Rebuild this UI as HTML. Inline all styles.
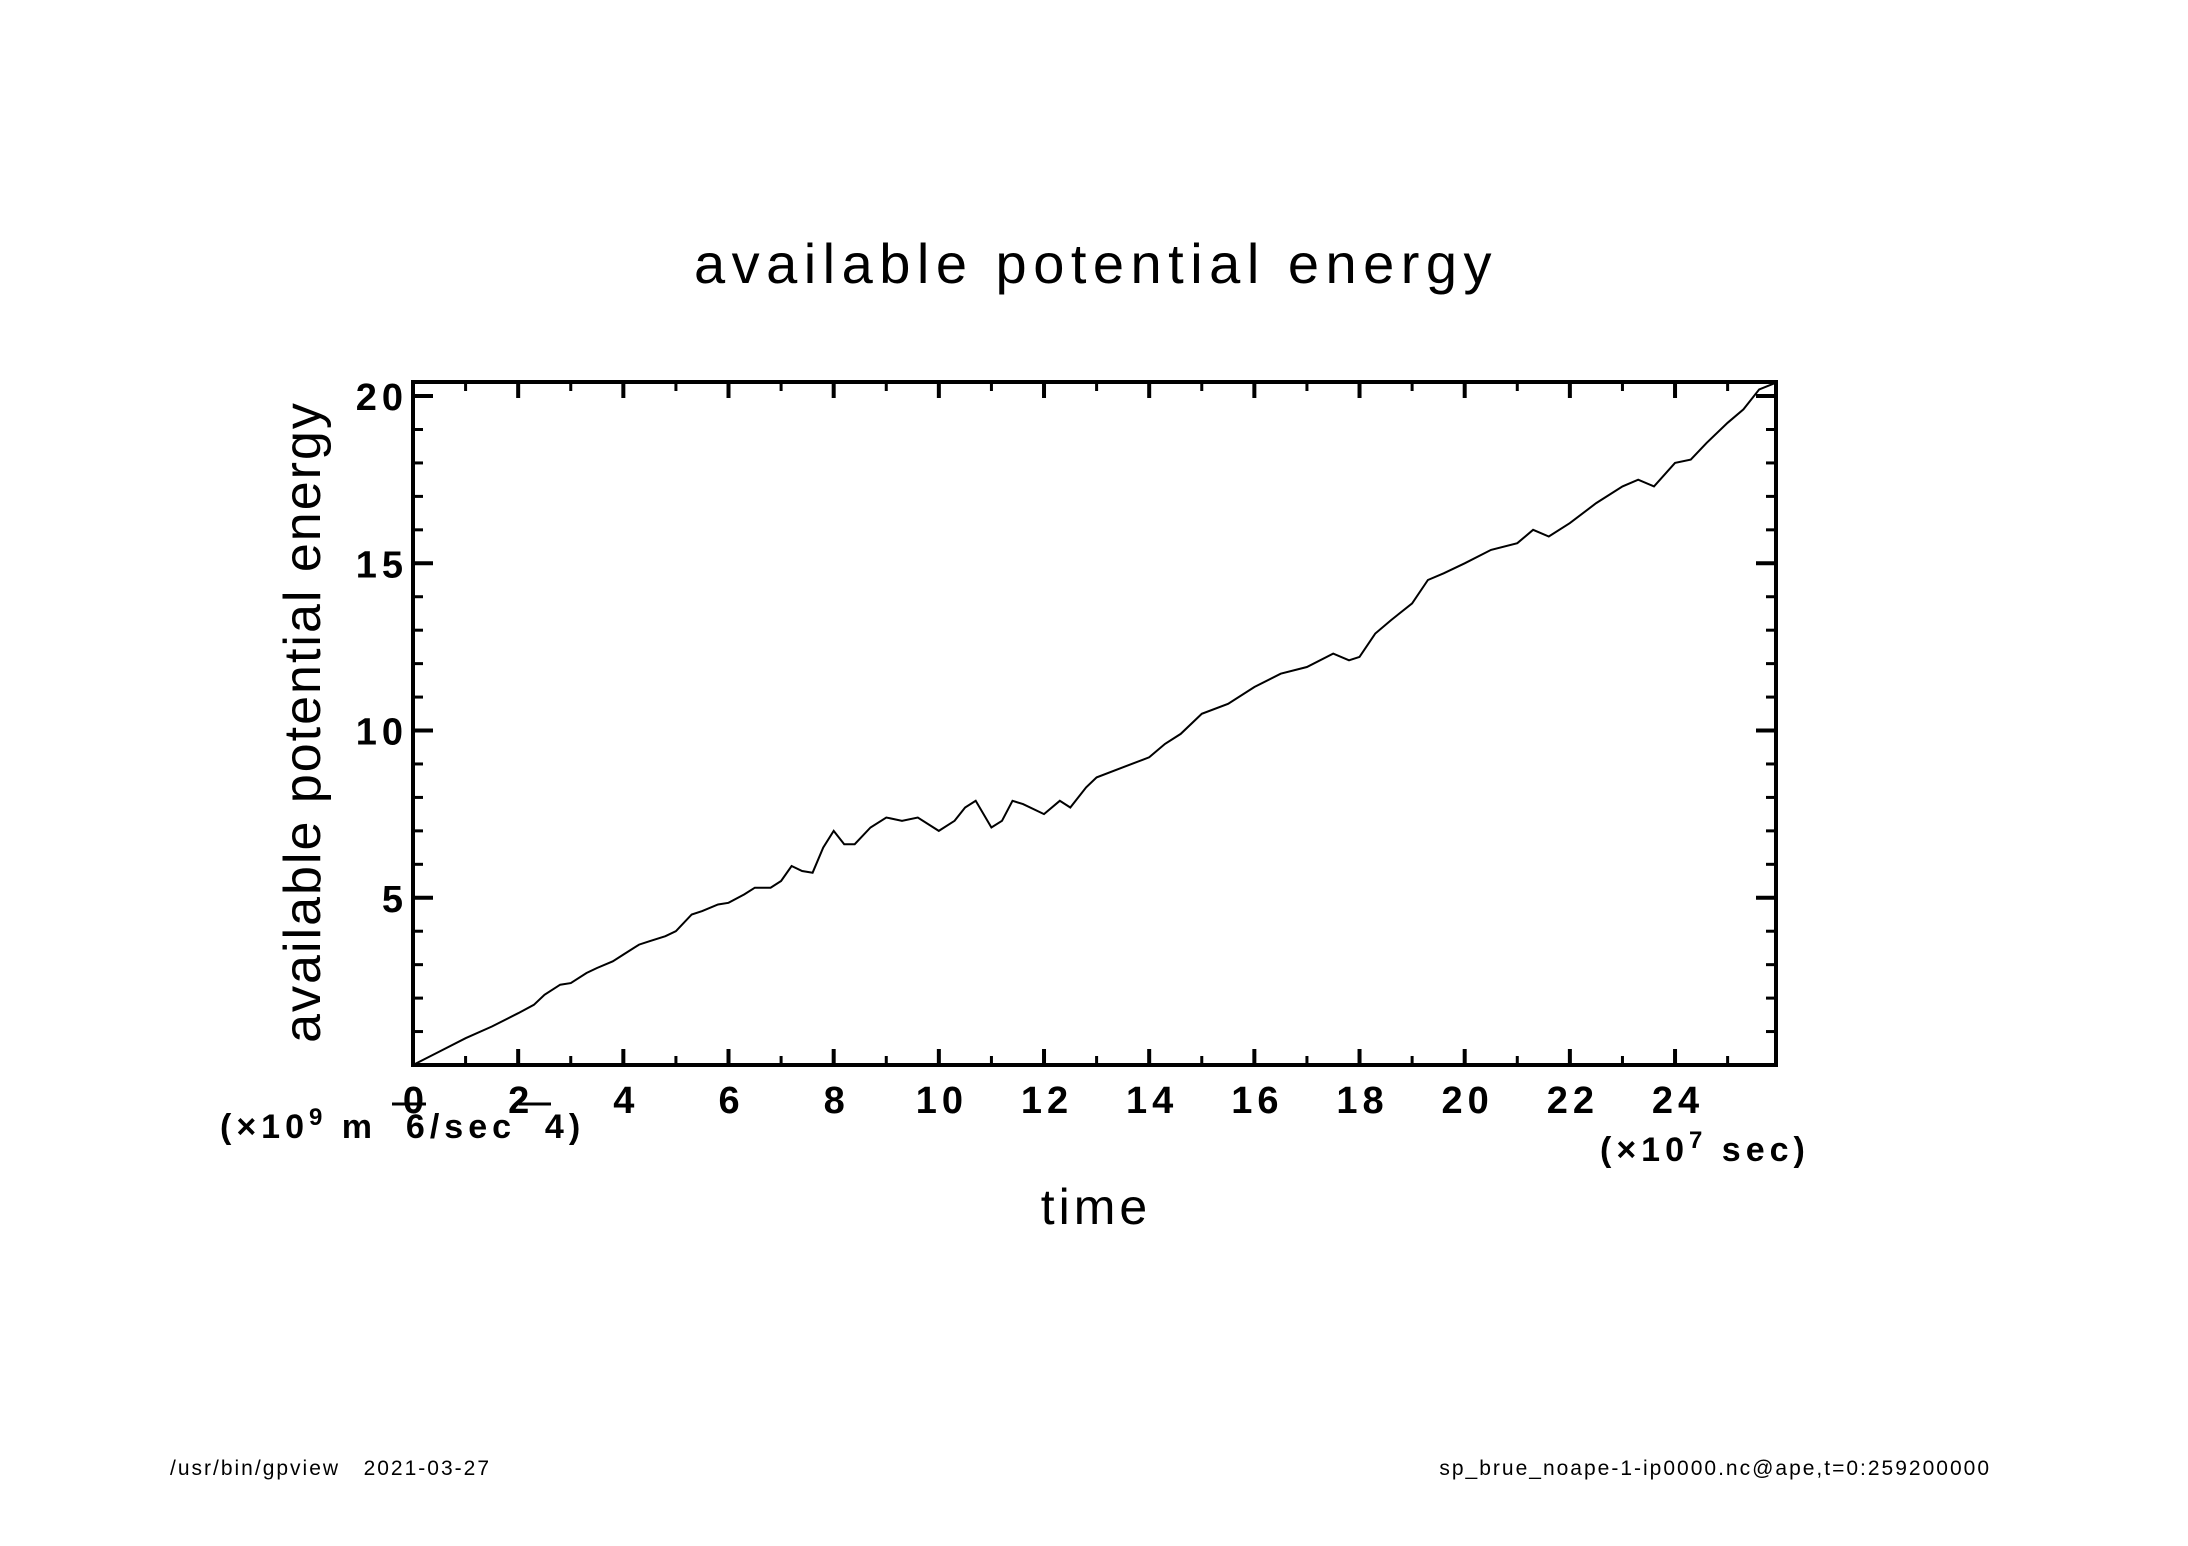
<!DOCTYPE html>
<html><head><meta charset="utf-8"><style>
html,body{margin:0;padding:0;background:#fff;}
svg{display:block;}
text{font-family:"Liberation Sans","DejaVu Sans",sans-serif;fill:#000;white-space:pre;}
</style></head><body>
<svg id="chart" width="2188" height="1546" viewBox="0 0 2188 1546">
<text x="1096" y="283" font-size="56" text-anchor="middle" letter-spacing="6.5">available potential energy</text>
<text transform="translate(320,722) rotate(-90)" font-size="52" text-anchor="middle" letter-spacing="2">available potential energy</text>
<text x="1096" y="1224" font-size="50" text-anchor="middle" letter-spacing="4">time</text>
<text x="220" y="1138" font-size="34" font-weight="bold" letter-spacing="5" xml:space="preserve">(×10<tspan font-size="24" dy="-13">9</tspan><tspan dy="13"> m  6/sec  4)</tspan></text>
<line x1="392" y1="1104" x2="426" y2="1104" stroke="#000" stroke-width="3"/>
<line x1="519" y1="1104" x2="551" y2="1104" stroke="#000" stroke-width="3"/>
<text x="1600" y="1161" font-size="34" font-weight="bold" letter-spacing="5" xml:space="preserve">(×10<tspan font-size="24" dy="-13">7</tspan><tspan dy="13"> sec)</tspan></text>
<text x="170" y="1475" font-size="21" letter-spacing="2" xml:space="preserve">/usr/bin/gpview   2021-03-27</text>
<text x="1991" y="1475" font-size="21" letter-spacing="2" text-anchor="end">sp_brue_noape-1-ip0000.nc@ape,t=0:259200000</text>
<g id="ticks"></g>
<path id="series" fill="none" stroke="#000" stroke-width="2"/>
<rect x="413" y="382" width="1363" height="683" fill="none" stroke="#000" stroke-width="4"/>
</svg>
<script>
const timeVals = [0,0.5,1,1.5,2,2.3,2.5,2.8,3,3.3,3.5,3.8,4,4.3,4.5,4.8,5,5.3,5.5,5.8,6,6.3,6.5,6.8,7,7.2,7.4,7.6,7.8,8,8.2,8.4,8.7,9,9.3,9.6,10,10.3,10.5,10.7,11,11.2,11.4,11.6,12,12.3,12.5,12.8,13,13.5,14,14.3,14.6,15,15.5,16,16.5,17,17.5,17.8,18,18.3,18.6,19,19.3,19.6,20,20.5,21,21.3,21.6,22,22.5,23,23.3,23.6,24,24.3,24.6,25,25.3,25.6,25.92];
const apeVals = [0,0.4,0.8,1.15,1.55,1.8,2.1,2.4,2.45,2.75,2.9,3.1,3.3,3.6,3.7,3.85,4.0,4.5,4.6,4.8,4.85,5.1,5.3,5.3,5.5,5.95,5.8,5.75,6.5,7.0,6.6,6.6,7.1,7.4,7.3,7.4,7.0,7.3,7.7,7.9,7.1,7.3,7.9,7.8,7.5,7.9,7.7,8.3,8.6,8.9,9.2,9.6,9.9,10.5,10.8,11.3,11.7,11.9,12.3,12.1,12.2,12.9,13.3,13.8,14.5,14.7,15.0,15.4,15.6,16.0,15.8,16.2,16.8,17.3,17.5,17.3,18.0,18.1,18.6,19.2,19.6,20.2,20.4];
const xTickLabels = ["0","2","4","6","8","10","12","14","16","18","20","22","24"];
const yTickLabels = ["5","10","15","20"];
const X0=413,X1=1776,Y0=1065,Y1=382,XMAX=25.92,YMAX=20.42;
function sx(v){return X0+(X1-X0)*v/XMAX;}
function sy(v){return Y0-(Y0-Y1)*v/YMAX;}
const NS="http://www.w3.org/2000/svg";
const g=document.getElementById('ticks');
function ln(x1,y1,x2,y2,w,name){const l=document.createElementNS(NS,'line');
l.setAttribute('x1',x1);l.setAttribute('y1',y1);l.setAttribute('x2',x2);l.setAttribute('y2',y2);
l.setAttribute('stroke','#000');l.setAttribute('stroke-width',w);


g.appendChild(l);}
function tx(x,y,s,anchor,name){const t=document.createElementNS(NS,'text');
t.setAttribute('x',x);t.setAttribute('y',y);t.setAttribute('font-size','38');t.setAttribute('font-weight','bold');t.setAttribute('letter-spacing','5');t.setAttribute('text-anchor',anchor);t.textContent=s;


g.appendChild(t);}
for(let i=1;i<=25;i++){const x=sx(i);const major=i%2===0;const L=major?16:9;const w=major?4:3;
ln(x,Y0,x,Y0-L,w,'x-tick');ln(x,Y1,x,Y1+L,w,'x-tick-top');}
xTickLabels.forEach(s=>{tx(sx(+s)+3,1113,s,'middle','x-tick-label');});
for(let i=1;i<=20;i++){const y=sy(i);const major=i%5===0;const L=major?20:10;const w=major?4:3;
ln(X0,y,X0+L,y,w,'y-tick');ln(X1,y,X1-L,y,w,'y-tick-right');}
yTickLabels.forEach(s=>{tx(408,sy(+s)+14,s,'end','y-tick-label');});
let d='';timeVals.forEach((t,i)=>{d+=(i?'L':'M')+sx(t).toFixed(1)+' '+sy(apeVals[i]).toFixed(1)+' ';});
document.getElementById('series').setAttribute('d',d);
</script>
</body></html>
